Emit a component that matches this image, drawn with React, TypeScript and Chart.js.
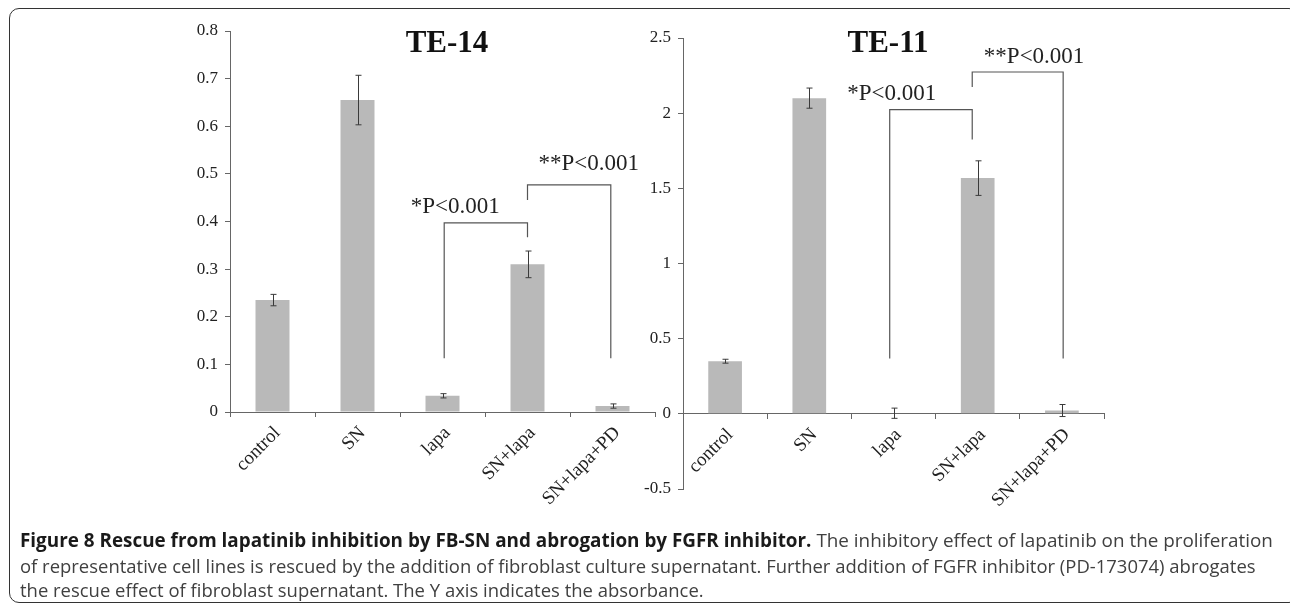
import React, { useEffect, useLayoutEffect, useRef } from 'react';
import { Chart, registerables } from 'chart.js';

Chart.register(...registerables);

const categories = ['control', 'SN', 'lapa', 'SN+lapa', 'SN+lapa+PD'];

const te14Values = [0.235, 0.655, 0.034, 0.31, 0.0125];
const te14Errors = [0.012, 0.052, 0.0045, 0.028, 0.0045];
const te14TickValues = [0, 0.1, 0.2, 0.3, 0.4, 0.5, 0.6, 0.7, 0.8];
const te14TickLabels = ['0', '0.1', '0.2', '0.3', '0.4', '0.5', '0.6', '0.7', '0.8'];

const te11Values = [0.35, 2.1, 0.004, 1.568, 0.022];
const te11Errors = [0.013, 0.067, 0.034, 0.115, 0.04];
const te11TickValues = [-0.5, 0, 0.5, 1, 1.5, 2, 2.5];
const te11TickLabels = ['-0.5', '0', '0.5', '1', '1.5', '2', '2.5'];

// significance brackets: category positions and y values of legs / top
const te14Brackets = [
  { from: 2.02, to: 3.0, fromBottom: 0.113, top: 0.397, toBottom: 0.367 },
  { from: 3.0, to: 3.98, fromBottom: 0.445, top: 0.477, toBottom: 0.113 },
];
const te14PLabels = [
  { text: '*P<0.001', x: 2.15, y: 0.418 },
  { text: '**P<0.001', x: 3.72, y: 0.508 },
];

const te11Brackets = [
  { from: 1.955, to: 2.935, fromBottom: 0.368, top: 2.024, toBottom: 1.825 },
  { from: 2.935, to: 4.015, fromBottom: 2.174, top: 2.274, toBottom: 0.368 },
];
const te11PLabels = [
  { text: '*P<0.001', x: 1.98, y: 2.086 },
  { text: '**P<0.001', x: 3.67, y: 2.334 },
];

const SERIF = '"Liberation Serif", "DejaVu Serif", serif';

type Bracket = { from: number; to: number; fromBottom: number; top: number; toBottom: number };
type PLabel = { text: string; x: number; y: number };

function makeOverlay(values: number[], errors: number[], brackets: Bracket[], labels: PLabel[]) {
  return {
    id: 'overlay',
    afterDatasetsDraw(chart: any) {
      const ctx = chart.ctx;
      const xs = chart.scales.x;
      const ys = chart.scales.y;
      const meta = chart.getDatasetMeta(0);
      ctx.save();
      // error bars
      ctx.strokeStyle = '#3a3a3a';
      ctx.lineWidth = 1;
      values.forEach((v, i) => {
        const bx = Math.round(meta.data[i].x) + 0.5;
        const yt = ys.getPixelForValue(v + errors[i]);
        const yb = ys.getPixelForValue(v - errors[i]);
        ctx.beginPath();
        ctx.moveTo(bx, yt);
        ctx.lineTo(bx, yb);
        ctx.moveTo(bx - 3, yt);
        ctx.lineTo(bx + 3, yt);
        ctx.moveTo(bx - 3, yb);
        ctx.lineTo(bx + 3, yb);
        ctx.stroke();
      });
      // brackets
      ctx.strokeStyle = '#555';
      ctx.lineWidth = 1.2;
      brackets.forEach((b) => {
        const x1 = xs.getPixelForValue(b.from);
        const x2 = xs.getPixelForValue(b.to);
        const yTop = ys.getPixelForValue(b.top);
        ctx.beginPath();
        ctx.moveTo(x1, ys.getPixelForValue(b.fromBottom));
        ctx.lineTo(x1, yTop);
        ctx.lineTo(x2, yTop);
        ctx.lineTo(x2, ys.getPixelForValue(b.toBottom));
        ctx.stroke();
      });
      // p-value labels
      ctx.fillStyle = '#222';
      ctx.font = `23px ${SERIF}`;
      ctx.textAlign = 'center';
      ctx.textBaseline = 'alphabetic';
      labels.forEach((l) => {
        ctx.fillText(l.text, xs.getPixelForValue(l.x), ys.getPixelForValue(l.y));
      });
      ctx.restore();
    },
  };
}

function makeConfig(
  values: number[],
  errors: number[],
  tickValues: number[],
  tickLabels: string[],
  brackets: Bracket[],
  labels: PLabel[],
  padding: { left: number; right: number; top: number; bottom: number },
  xPosition: any,
  xHeight: number
): any {
  return {
    type: 'bar',
    data: {
      labels: categories,
      datasets: [
        {
          data: values,
          backgroundColor: '#b9b9b9',
          borderWidth: 0,
          barPercentage: 0.4,
          categoryPercentage: 1,
        },
      ],
    },
    options: {
      responsive: false,
      animation: false,
      devicePixelRatio: 1,
      layout: { padding },
      plugins: { legend: { display: false }, tooltip: { enabled: false }, title: { display: false } },
      scales: {
        x: {
          position: xPosition,
          offset: true,
          afterFit: (s: any) => {
            s.height = xHeight;
          },
          ticks: {
            minRotation: 45,
            maxRotation: 45,
            autoSkip: false,
            padding: 5,
            labelOffset: 5,
            color: '#222',
            font: { family: SERIF, size: 19 },
          },
          grid: { offset: true, drawOnChartArea: false, tickLength: 5, color: '#666', lineWidth: 1 },
          border: { color: '#666', width: 1 },
        },
        y: {
          min: tickValues[0],
          max: tickValues[tickValues.length - 1],
          afterBuildTicks: (s: any) => {
            s.ticks = tickValues.map((v) => ({ value: v }));
          },
          afterFit: (s: any) => {
            s.width = 60;
          },
          ticks: {
            autoSkip: false,
            callback: (_v: any, i: number) => tickLabels[i],
            padding: 7,
            color: '#222',
            font: { family: SERIF, size: 17 },
          },
          grid: { drawOnChartArea: false, tickLength: 5, color: '#666', lineWidth: 1 },
          border: { color: '#666', width: 1 },
        },
      },
    },
    plugins: [makeOverlay(values, errors, brackets, labels)],
  };
}

function ChartCanvas({ config }: { config: () => any }) {
  const ref = useRef<HTMLCanvasElement>(null);
  useEffect(() => {
    if (!ref.current) return;
    const chart = new Chart(ref.current, config());
    return () => chart.destroy();
  }, []);
  return (
    <canvas
      ref={ref}
      width={1290}
      height={604}
      style={{ position: 'absolute', left: 0, top: 0, width: 1290, height: 604 }}
    />
  );
}

const captionBold = 'Figure 8 Rescue from lapatinib inhibition by FB-SN and abrogation by FGFR inhibitor.';
const captionLine1 = ' The inhibitory effect of lapatinib on the proliferation';
const captionLine2 =
  'of representative cell lines is rescued by the addition of fibroblast culture supernatant. Further addition of FGFR inhibitor (PD-173074) abrogates';
const captionLine3 = 'the rescue effect of fibroblast supernatant. The Y axis indicates the absorbance.';

export default function App() {
  const l1 = useRef<HTMLSpanElement>(null);
  const l2 = useRef<HTMLSpanElement>(null);
  const l3 = useRef<HTMLSpanElement>(null);

  useLayoutEffect(() => {
    const fit = () => {
      if (!l1.current || !l2.current || !l3.current) return;
      const w1 = l1.current.offsetWidth;
      const w2 = l2.current.offsetWidth;
      if (w1 > 0) l1.current.style.transform = `scaleX(${1253 / w1})`;
      if (w2 > 0) {
        const k = 1236 / w2;
        l2.current.style.transform = `scaleX(${k})`;
        l3.current.style.transform = `scaleX(${k})`;
      }
    };
    fit();
    (document as any).fonts?.ready?.then(fit);
  }, []);

  const lineStyle: React.CSSProperties = {
    position: 'absolute',
    left: 0,
    whiteSpace: 'nowrap',
    height: 24,
    lineHeight: '24px',
  };
  const spanStyle: React.CSSProperties = { display: 'inline-block', transformOrigin: 'left top' };

  return (
    <div
      style={{
        position: 'fixed',
        left: 0,
        top: 0,
        width: 1290,
        height: 604,
        overflow: 'hidden',
        background: '#fff',
      }}
    >
      <div
        style={{
          position: 'absolute',
          left: 9,
          top: 8,
          width: 1290,
          height: 595,
          boxSizing: 'border-box',
          border: '1.5px solid #333',
          borderRadius: 10,
        }}
      />
      <ChartCanvas
        config={() =>
          makeConfig(
            te14Values,
            te14Errors,
            te14TickValues,
            te14TickLabels,
            te14Brackets,
            te14PLabels,
            { left: 170, top: 31, right: 635, bottom: 92 },
            'bottom',
            100
          )
        }
      />
      <ChartCanvas
        config={() =>
          makeConfig(
            te11Values,
            te11Errors,
            te11TickValues,
            te11TickLabels,
            te11Brackets,
            te11PLabels,
            { left: 623, top: 38, right: 186, bottom: 115 },
            { y: 0 },
            0
          )
        }
      />
      <div
        style={{
          position: 'absolute',
          left: 447,
          top: 26,
          transform: 'translateX(-50%)',
          font: `bold 31px/31px ${SERIF}`,
          color: '#111',
          whiteSpace: 'nowrap',
        }}
      >
        TE-14
      </div>
      <div
        style={{
          position: 'absolute',
          left: 888,
          top: 26,
          transform: 'translateX(-50%)',
          font: `bold 31px/31px ${SERIF}`,
          color: '#111',
          whiteSpace: 'nowrap',
        }}
      >
        TE-11
      </div>
      <div
        style={{
          position: 'absolute',
          left: 20,
          top: 528,
          fontFamily: '"Open Sans", "Noto Sans", sans-serif',
          fontSize: 19,
          color: '#404040',
        }}
      >
        <div style={{ ...lineStyle, top: 0 }}>
          <span ref={l1} style={spanStyle}>
            <b style={{ color: '#1a1a1a' }}>{captionBold}</b>
            {captionLine1}
          </span>
        </div>
        <div style={{ ...lineStyle, top: 26 }}>
          <span ref={l2} style={spanStyle}>
            {captionLine2}
          </span>
        </div>
        <div style={{ ...lineStyle, top: 50 }}>
          <span ref={l3} style={spanStyle}>
            {captionLine3}
          </span>
        </div>
      </div>
    </div>
  );
}
